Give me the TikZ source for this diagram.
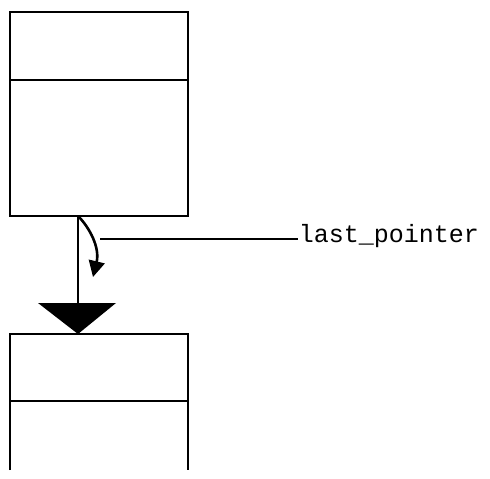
\documentclass[tikz,border=0pt]{standalone}
\usepackage{fontspec}
\newfontfamily\labelfont{Liberation Mono}
\usetikzlibrary{arrows.meta}

\begin{document}
\begin{tikzpicture}[x=1pt, y=-1pt,
    line width=1.9pt,
    cell/.style={draw, minimum width=178pt, minimum height=204pt, inner sep=0pt},
    divider/.style={line width=1.9pt},
    leader/.style={line width=1.4pt},
    pointer/.style={-{Triangle[length=16pt, width=16pt]}, line width=2.6pt}]

\useasboundingbox (0,0) rectangle (490,479);

% upper record
\node[cell] (prev) at (99,114) {};
\draw[divider] ([yshift=-69pt]prev.north west) -- ([yshift=-69pt]prev.north east);

% lower record, cut off at the bottom
\coordinate (next) at (78,334);
\draw (10,470) -- (10,334) -- (188,334) -- (188,470);
\draw[divider] (10,401) -- (188,401);

% link between the records
\coordinate (link) at (78,216);
\coordinate (head) at (78,303);
\fill (38,303) -- (116,303) -- (next) -- cycle;
\draw (link) -- (head);

% last pointer
\coordinate (target) at (93,277);
\draw[pointer] (link) .. controls (90,228) and (100,248) .. (target);
\node[anchor=base west, font=\labelfont\fontsize{25}{28}\selectfont, inner sep=0pt] (lbl) at (298,242) {last\_pointer};
\coordinate (tip) at (100,239);
\draw[leader] (tip) -- (tip -| lbl.west);

\end{tikzpicture}
\end{document}
